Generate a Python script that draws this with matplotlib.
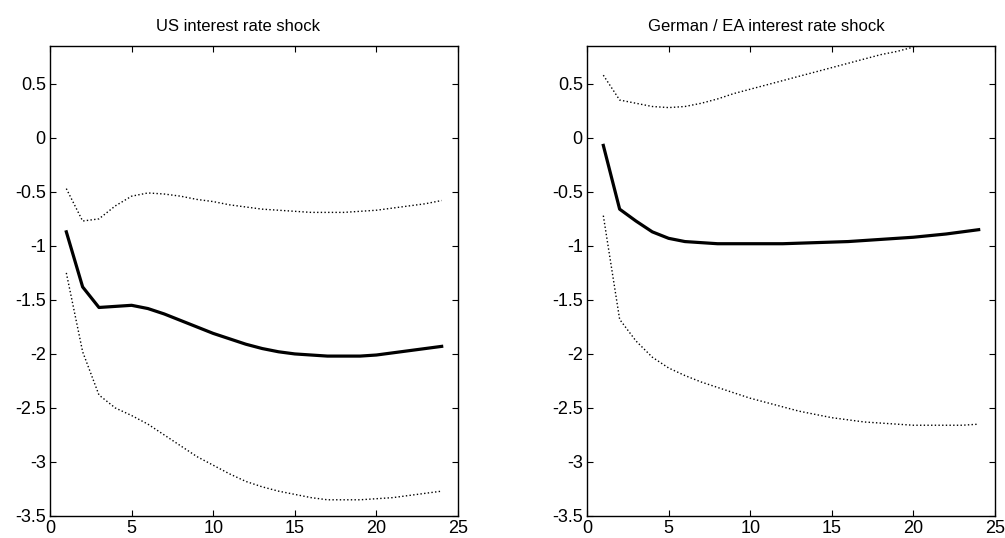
import matplotlib
matplotlib.use('Agg')
import matplotlib.pyplot as plt
import numpy as np

plt.rcParams['font.family'] = ['Liberation Sans', 'DejaVu Sans']

horizon = np.arange(1, 25)

us_mid = [-0.87, -1.38, -1.57, -1.56, -1.55, -1.58, -1.63, -1.69, -1.75, -1.81, -1.86, -1.91,
          -1.95, -1.98, -2.00, -2.01, -2.02, -2.02, -2.02, -2.01, -1.99, -1.97, -1.95, -1.93]
us_up = [-0.47, -0.77, -0.75, -0.63, -0.54, -0.51, -0.52, -0.54, -0.57, -0.59, -0.62, -0.64,
         -0.66, -0.67, -0.68, -0.69, -0.69, -0.69, -0.68, -0.67, -0.65, -0.63, -0.61, -0.58]
us_lo = [-1.25, -1.98, -2.38, -2.50, -2.57, -2.65, -2.75, -2.85, -2.95, -3.03, -3.11, -3.18,
         -3.23, -3.27, -3.30, -3.33, -3.35, -3.35, -3.35, -3.34, -3.33, -3.31, -3.29, -3.27]

de_mid = [-0.07, -0.66, -0.77, -0.87, -0.93, -0.96, -0.97, -0.98, -0.98, -0.98, -0.98, -0.98,
          -0.975, -0.97, -0.965, -0.96, -0.95, -0.94, -0.93, -0.92, -0.905, -0.89, -0.87, -0.85]
de_up = [0.58, 0.35, 0.32, 0.29, 0.28, 0.29, 0.32, 0.36, 0.41, 0.45, 0.49, 0.53,
         0.57, 0.61, 0.65, 0.69, 0.73, 0.77, 0.80, 0.84, 0.87, 0.91, 0.94, 0.97]
de_lo = [-0.72, -1.68, -1.88, -2.03, -2.13, -2.20, -2.26, -2.31, -2.36, -2.41, -2.45, -2.49,
         -2.53, -2.56, -2.59, -2.61, -2.63, -2.64, -2.65, -2.66, -2.66, -2.66, -2.66, -2.65]

titles = ['US interest rate shock', 'German / EA interest rate shock']
panels = [(us_mid, us_up, us_lo), (de_mid, de_up, de_lo)]
yticks = [0.5, 0, -0.5, -1, -1.5, -2, -2.5, -3, -3.5]

fig = plt.figure(figsize=(10.05, 5.38), dpi=100)
lefts = [50 / 1005, 587 / 1005]
title_x = [0.461, 0.44]

for left, tx, title, (mid, up, lo) in zip(lefts, title_x, titles, panels):
    ax = fig.add_axes([left, 22 / 538, 408 / 1005, 470 / 538])
    ax.plot(horizon, up, ':', color='black', lw=1.0)
    ax.plot(horizon, lo, ':', color='black', lw=1.0)
    ax.plot(horizon, mid, '-', color='black', lw=2.3)
    ax.set_xlim(0, 25)
    ax.set_ylim(-3.5, 0.85)
    ax.set_xticks([0, 5, 10, 15, 20, 25])
    ax.set_yticks(yticks)
    ax.set_yticklabels(['%g' % v for v in yticks])
    ax.tick_params(direction='in', top=True, right=True, labelsize=13, length=4, pad=3)
    for s in ax.spines.values():
        s.set_linewidth(1.0)
    ax.set_title(title, fontsize=12, pad=11, x=tx)

fig.savefig('out.png', dpi=100)
